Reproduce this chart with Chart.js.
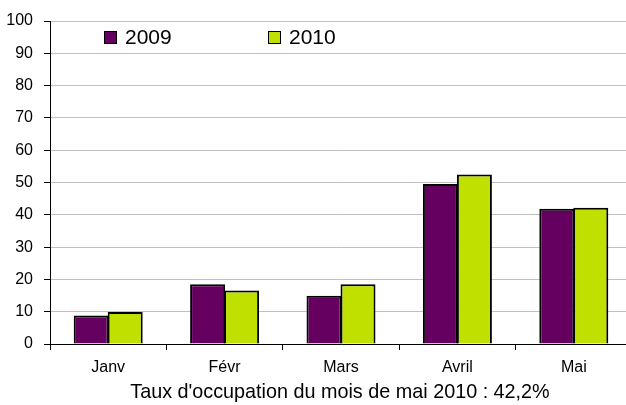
<!DOCTYPE html>
<html>
<head>
<meta charset="utf-8">
<script src="https://cdn.jsdelivr.net/npm/chart.js@4/dist/chart.umd.min.js"></script>
<style>
    html, body { margin: 0; padding: 0; background: #fff; overflow: hidden; }
    #wrap { position: relative; width: 634px; height: 405px; }
    .leg { position: absolute; font-family: "Liberation Sans", Arial, sans-serif; font-size: 21px; color: #000; line-height: 21px; }
    .leg span { display: inline-block; width: 11px; height: 11px; border: 1px solid #000; margin-right: 8px; vertical-align: 0px; }
    #caption { position: absolute; left: 0; width: 680px; top: 381px; text-align: center; font-family: "Liberation Sans", Arial, sans-serif; font-size: 19.8px; line-height: 20px; color: #000; }
</style>
</head>
<body>
<div id="wrap">
    <canvas id="grafik" width="634" height="405"></canvas>
    <div class="leg" style="left:104px; top:26px;"><span style="background:#650060"></span>2009</div>
    <div class="leg" style="left:268px; top:26px;"><span style="background:#c0e000"></span>2010</div>
    <div id="caption">Taux d'occupation du mois de mai 2010 : 42,2%</div>
</div>

<script>
// ===============================
// Data
// ===============================
const mois = ["Janv", "Févr", "Mars", "Avril", "Mai"];
const taux2009 = [8.8, 18.5, 14.9, 49.5, 41.9];
const taux2010 = [9.9, 16.6, 18.5, 52.5, 42.2];
const yTicks = [0, 10, 20, 30, 40, 50, 60, 70, 80, 90, 100];

// ===============================
// Grafik
// ===============================
const ctx = document.getElementById("grafik");

new Chart(ctx, {
    type: "bar",
    data: {
        labels: mois,
        datasets: [
            {
                label: "2009",
                data: taux2009,
                backgroundColor: "#650060",
                borderColor: "#000",
                borderWidth: 2
            },
            {
                label: "2010",
                data: taux2010,
                backgroundColor: "#c0e000",
                borderColor: "#000",
                borderWidth: 2
            }
        ]
    },
    options: {
        responsive: false,
        animation: false,
        layout: { padding: { top: 21, right: 2, left: 0, bottom: 0 } },
        plugins: {
            legend: { display: false },
            tooltip: { enabled: false }
        },
        datasets: {
            // bars a little wider than their slot so the inner borders overlap
            bar: { categoryPercentage: 0.584, barPercentage: 1.03 }
        },
        scales: {
            x: {
                grid: {
                    display: true,
                    drawOnChartArea: false,
                    drawTicks: true,
                    tickLength: 6,
                    tickColor: "#000",
                    offset: true
                },
                border: { color: "#000", width: 1 },
                ticks: {
                    color: "#000",
                    padding: 8,
                    font: { family: "Liberation Sans", size: 16 }
                },
                afterFit: function (scale) { scale.height = 61; }
            },
            y: {
                min: 0,
                max: 100,
                afterBuildTicks: function (scale) {
                    scale.ticks = yTicks.map(v => ({ value: v }));
                },
                grid: {
                    color: "#c0c0c0",
                    tickColor: "#000",
                    tickLength: 6
                },
                border: { color: "#000", width: 1 },
                ticks: {
                    color: "#000",
                    padding: 11,
                    font: { family: "Liberation Sans", size: 16 }
                },
                afterFit: function (scale) { scale.width = 50; }
            }
        }
    }
});
</script>
</body>
</html>
